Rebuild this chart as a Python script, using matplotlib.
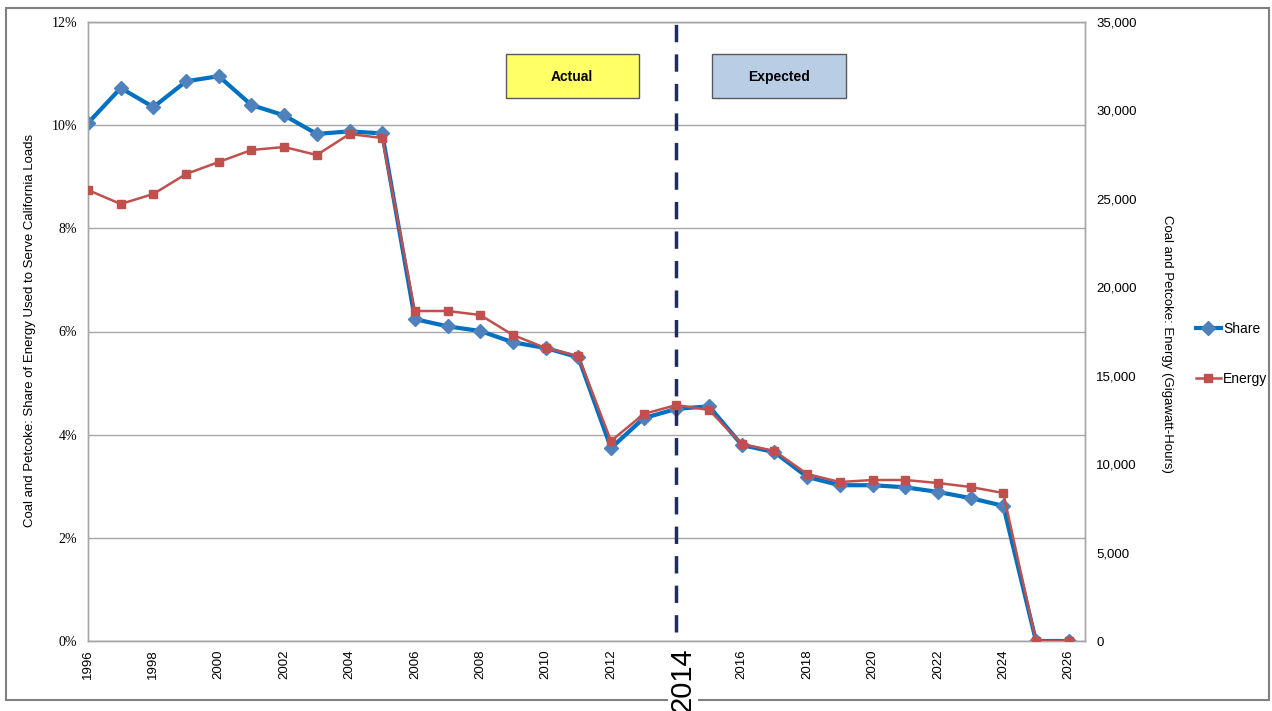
import matplotlib.pyplot as plt
from matplotlib.patches import Rectangle
from matplotlib.ticker import FuncFormatter

# -----------------------------
# Data
# -----------------------------
years = list(range(1996, 2027))

share_pct = [10.04, 10.72, 10.35, 10.85, 10.95, 10.39, 10.19, 9.83, 9.88, 9.84,
             6.24, 6.10, 6.01, 5.79, 5.68, 5.50, 3.74, 4.32, 4.50, 4.55,
             3.80, 3.66, 3.18, 3.02, 3.02, 2.98, 2.89, 2.77, 2.62, 0.0, 0.0]

energy_gwh = [25500, 24710, 25275, 26405, 27084, 27762, 27932, 27480, 28667, 28440,
              18659, 18659, 18433, 17302, 16567, 16114, 11308, 12835, 13344, 13061,
              11139, 10743, 9442, 8990, 9103, 9103, 8934, 8707, 8368, 0, 0]

split_year = 2014
tick_years = [y for y in range(1996, 2027, 2) if y != split_year]

SHARE_COLOR = "#0070C0"
SHARE_MARK = "#4F81BD"
ENERGY_COLOR = "#C0504D"
GRID = "#A6A6A6"

plt.rcParams["font.family"] = ["Liberation Sans", "DejaVu Sans"]

fig = plt.figure(figsize=(12.72, 7.11), dpi=100)
ax = fig.add_axes([88 / 1272, 1 - 641 / 711, (1085 - 88) / 1272, (641 - 22) / 711])
ax2 = ax.twinx()

# grid / spines
ax.set_ylim(0, 12)
ax.set_yticks(range(0, 13, 2))
ax.yaxis.set_major_formatter(FuncFormatter(lambda v, p: f"{int(v)}%"))
ax.grid(axis="y", color=GRID, linewidth=1)
ax.set_axisbelow(True)
for a in (ax, ax2):
    for s in a.spines.values():
        s.set_color(GRID)
        s.set_linewidth(1)

ax.set_xlim(1996, 2026.5)
ax.set_xticks(tick_years)
ax.set_xticklabels([str(y) for y in tick_years], rotation=90, fontsize=9.5)
ax.tick_params(axis="x", length=0, pad=6)
ax.tick_params(axis="y", length=0, pad=8)
for lbl in ax.get_yticklabels():
    lbl.set_fontfamily("Liberation Serif")
    lbl.set_fontsize(10)

ax2.set_ylim(0, 35000)
ax2.set_yticks(range(0, 35001, 5000))
ax2.yaxis.set_major_formatter(FuncFormatter(lambda v, p: f"{int(v):,}"))
ax2.tick_params(axis="y", length=0, pad=8, labelsize=9.5)

# series
l1, = ax.plot(years, share_pct, color=SHARE_COLOR, linewidth=3, marker="D",
              markersize=7, markerfacecolor=SHARE_MARK, markeredgecolor=SHARE_MARK,
              label="Share", zorder=3)
l2, = ax2.plot(years, energy_gwh, color=ENERGY_COLOR, linewidth=1.8, marker="s",
               markersize=6, markerfacecolor=ENERGY_COLOR, markeredgecolor=ENERGY_COLOR,
               label="Energy", zorder=4)

# split line
ax.axvline(split_year, ymin=0.015, ymax=1.0, color="#1F2D5A", linewidth=2.5,
           linestyle=(0, (5, 3.5)), zorder=5)
ax.set_ylim(0, 12)

# actual / expected boxes
fig.patches.append(Rectangle((506 / 1272, 1 - 98 / 711), 133 / 1272, 44 / 711,
                             transform=fig.transFigure, facecolor="#FFFF66",
                             edgecolor="#595959", linewidth=1))
fig.patches.append(Rectangle((712 / 1272, 1 - 98 / 711), 134 / 1272, 44 / 711,
                             transform=fig.transFigure, facecolor="#B9CDE5",
                             edgecolor="#595959", linewidth=1))
fig.text(572 / 1272, 1 - 77 / 711, "Actual", ha="center", va="center",
         fontsize=10, fontweight="bold")
fig.text(779 / 1272, 1 - 77 / 711, "Expected", ha="center", va="center",
         fontsize=10, fontweight="bold")

# outer frame
fig.patches.append(Rectangle((6 / 1272, 1 - 700 / 711), 1263 / 1272, 692 / 711,
                             transform=fig.transFigure, facecolor="none",
                             edgecolor="#808080", linewidth=1.5))

# big 2014 label
fig.text(683 / 1272, 1 - 680 / 711, str(split_year), rotation=90, ha="center",
         va="center", fontsize=21,
         bbox=dict(facecolor="white", edgecolor="none", pad=1))

# axis titles
fig.text(30 / 1272, 1 - 330 / 711,
         "Coal and Petcoke: Share of Energy Used to Serve California Loads",
         rotation=90, ha="center", va="center", fontsize=9.5)
fig.text(1167 / 1272, 1 - 344 / 711,
         "Coal and Petcoke: Energy (Gigawatt-Hours)",
         rotation=270, ha="center", va="center", fontsize=9.5)

# legend
fig.legend(handles=[l1, l2], loc="center left",
           bbox_to_anchor=(1183 / 1272, 1 - 354 / 711), frameon=False,
           fontsize=10, handlelength=1.8, labelspacing=2.6, handletextpad=0.2)

plt.savefig("out.png", dpi=100)
plt.close()
